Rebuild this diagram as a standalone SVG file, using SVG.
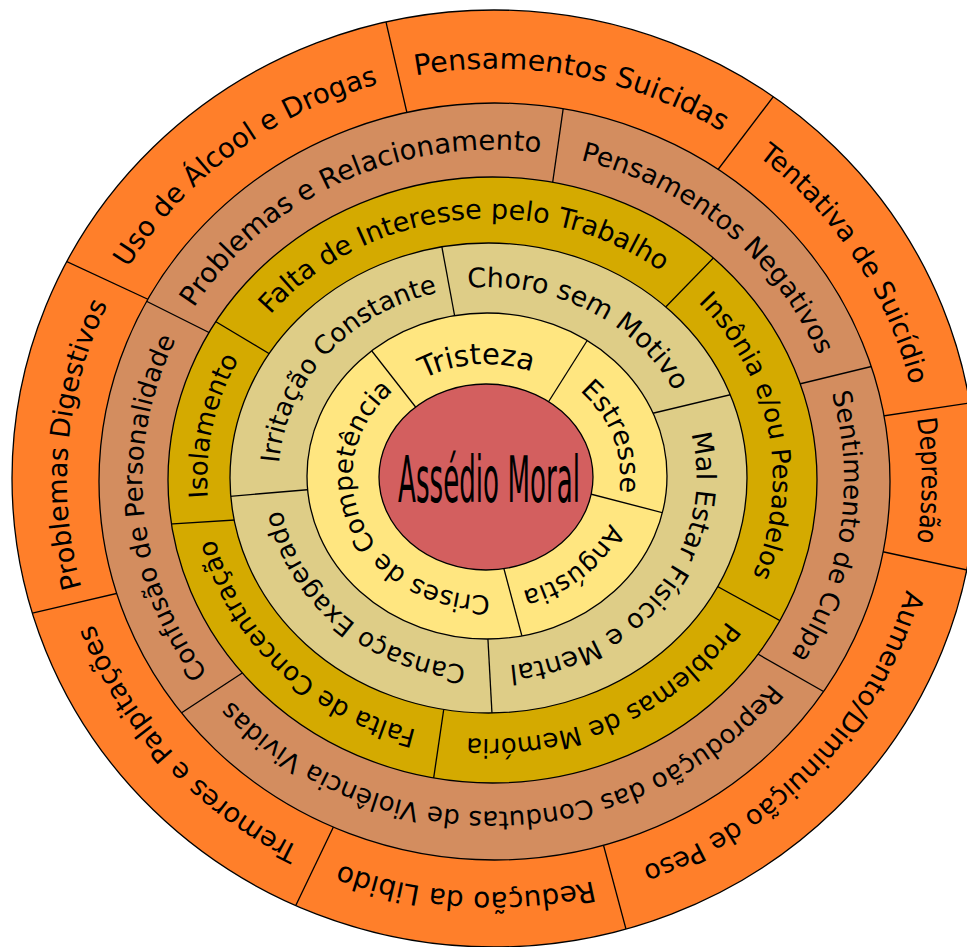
<svg xmlns="http://www.w3.org/2000/svg" width="967" height="947" viewBox="0 0 967 947">
<style>
.ring{stroke:#000;stroke-width:1.3}
.div{stroke:#000;stroke-width:1.3;fill:none}
.lbl{font-family:"DejaVu Sans","Liberation Sans",sans-serif;font-size:26px;fill:#000;text-anchor:middle}
.title{font-family:"DejaVu Sans","Liberation Sans",sans-serif;font-size:64px;fill:#000;text-anchor:middle}
</style>
<defs>
<clipPath id="c5"><ellipse cx="494" cy="478.5" rx="482" ry="468.5"/></clipPath>
<clipPath id="c4"><ellipse cx="494.5" cy="481.5" rx="395.5" ry="378.5"/></clipPath>
<clipPath id="c3"><ellipse cx="492.5" cy="480" rx="324.5" ry="303"/></clipPath>
<clipPath id="c2"><ellipse cx="488.5" cy="478" rx="258.5" ry="235"/></clipPath>
<clipPath id="c1"><ellipse cx="487" cy="476" rx="180" ry="163"/></clipPath>
<path id="p1" d="M -50 -86.6025 A 100 100 0 1 1 -50 86.6025" transform="translate(486.3 476.7) scale(1.274 1.126) rotate(265.5)"/>
<path id="p2" d="M -50 -86.6025 A 100 100 0 1 1 -50 86.6025" transform="translate(486.4 476.6) scale(1.34 1.189) rotate(342)"/>
<path id="p3" d="M -50 -86.6025 A 100 100 0 1 1 -50 86.6025" transform="translate(486.4 476.6) scale(1.34 1.189) rotate(47)"/>
<path id="p4" d="M -50 -86.6025 A 100 100 0 1 1 -50 86.6025" transform="translate(486.4 476.6) scale(1.34 1.189) rotate(157)"/>
<path id="p5" d="M -50 -86.6025 A 100 100 0 1 1 -50 86.6025" transform="translate(487.6 476.7) scale(2.09 1.896) rotate(219)"/>
<path id="p6" d="M -50 -86.6025 A 100 100 0 1 1 -50 86.6025" transform="translate(487.6 476.7) scale(2.09 1.896) rotate(300)"/>
<path id="p7" d="M -50 -86.6025 A 100 100 0 1 1 -50 86.6025" transform="translate(487.6 476.7) scale(2.09 1.896) rotate(35)"/>
<path id="p8" d="M -50 -86.6025 A 100 100 0 1 1 -50 86.6025" transform="translate(487.6 476.7) scale(2.09 1.896) rotate(134)"/>
<path id="p9" d="M -50 -86.6025 A 100 100 0 1 1 -50 86.6025" transform="translate(490 478.7) scale(2.829 2.602) rotate(191)"/>
<path id="p10" d="M -50 -86.6025 A 100 100 0 1 1 -50 86.6025" transform="translate(490 478.7) scale(2.829 2.602) rotate(263)"/>
<path id="p11" d="M -50 -86.6025 A 100 100 0 1 1 -50 86.6025" transform="translate(490 478.7) scale(2.829 2.602) rotate(350)"/>
<path id="p12" d="M -50 -86.6025 A 100 100 0 1 1 -50 86.6025" transform="translate(490 478.7) scale(2.829 2.602) rotate(63)"/>
<path id="p13" d="M -50 -86.6025 A 100 100 0 1 1 -50 86.6025" transform="translate(490 478.7) scale(2.829 2.602) rotate(137)"/>
<path id="p14" d="M -50 -86.6025 A 100 100 0 1 1 -50 86.6025" transform="translate(493.2 480.6) scale(3.508 3.309) rotate(175)"/>
<path id="p15" d="M -50 -86.6025 A 100 100 0 1 1 -50 86.6025" transform="translate(493.2 480.6) scale(3.508 3.309) rotate(244)"/>
<path id="p16" d="M -50 -86.6025 A 100 100 0 1 1 -50 86.6025" transform="translate(493.2 480.6) scale(3.508 3.309) rotate(312)"/>
<path id="p17" d="M -50 -86.6025 A 100 100 0 1 1 -50 86.6025" transform="translate(493.2 480.6) scale(3.508 3.309) rotate(8)"/>
<path id="p18" d="M -50 -86.6025 A 100 100 0 1 1 -50 86.6025" transform="translate(493.2 480.6) scale(3.508 3.309) rotate(88)"/>
<path id="p19" d="M -50 -86.6025 A 100 100 0 1 1 -50 86.6025" transform="translate(494.3 480.4) scale(4.275 4.118) rotate(232)"/>
<path id="p20" d="M -50 -86.6025 A 100 100 0 1 1 -50 86.6025" transform="translate(494.3 480.4) scale(4.275 4.118) rotate(281)"/>
<path id="p21" d="M -50 -86.6025 A 100 100 0 1 1 -50 86.6025" transform="translate(494.3 480.4) scale(4.275 4.118) rotate(328)"/>
<path id="p22" d="M -50 -86.6025 A 100 100 0 1 1 -50 86.6025" transform="translate(494.3 480.4) scale(4.275 4.118) rotate(0)"/>
<path id="p23" d="M -50 -86.6025 A 100 100 0 1 1 -50 86.6025" transform="translate(494.3 480.4) scale(4.275 4.118) rotate(42)"/>
<path id="p24" d="M -50 -86.6025 A 100 100 0 1 1 -50 86.6025" transform="translate(494.3 480.4) scale(4.275 4.118) rotate(94)"/>
<path id="p25" d="M -50 -86.6025 A 100 100 0 1 1 -50 86.6025" transform="translate(494.3 480.4) scale(4.275 4.118) rotate(139)"/>
<path id="p26" d="M -50 -86.6025 A 100 100 0 1 1 -50 86.6025" transform="translate(494.3 480.4) scale(4.275 4.118) rotate(185)"/>
</defs>
<g id="rings">
<ellipse class="ring" cx="494" cy="478.5" rx="482" ry="468.5" fill="#ff7f2a"/>
<g class="div" clip-path="url(#c5)">
<line x1="44" y1="251" x2="171" y2="310"/>
<line x1="380" y1="-4" x2="413" y2="139"/>
<line x1="789" y1="76" x2="704" y2="188"/>
<line x1="990" y1="400" x2="863" y2="419"/>
<line x1="990" y1="575" x2="861" y2="547"/>
<line x1="634" y1="959" x2="597" y2="821"/>
<line x1="284" y1="930" x2="343" y2="807"/>
<line x1="7" y1="619" x2="140" y2="588"/>
</g>
<ellipse class="ring" cx="494.5" cy="481.5" rx="395.5" ry="378.5" fill="#d38d5f"/>
<g class="div" clip-path="url(#c4)">
<line x1="130" y1="293" x2="226" y2="341"/>
<line x1="566" y1="89" x2="550" y2="201"/>
<line x1="890" y1="362" x2="783" y2="388"/>
<line x1="842" y1="702" x2="742" y2="645"/>
<line x1="166" y1="723" x2="256" y2="664"/>
</g>
<ellipse class="ring" cx="492.5" cy="480" rx="324.5" ry="303" fill="#d4aa00"/>
<g class="div" clip-path="url(#c3)">
<line x1="203" y1="314" x2="283" y2="362"/>
<line x1="725" y1="246" x2="655" y2="318"/>
<line x1="797" y1="630" x2="702" y2="578"/>
<line x1="431" y1="796" x2="446" y2="694"/>
<line x1="154" y1="525" x2="251" y2="519"/>
</g>
<ellipse class="ring" cx="488.5" cy="478" rx="258.5" ry="235" fill="#decd87"/>
<g class="div" clip-path="url(#c2)">
<line x1="438" y1="226" x2="458" y2="334"/>
<line x1="750" y1="390" x2="633" y2="418"/>
<line x1="493" y1="732" x2="487" y2="622"/>
<line x1="210" y1="498" x2="328" y2="488"/>
</g>
<ellipse class="ring" cx="487" cy="476" rx="180" ry="163" fill="#ffe680"/>
<g class="div" clip-path="url(#c1)">
<line x1="357" y1="332" x2="432" y2="428"/>
<line x1="597" y1="325" x2="537" y2="420"/>
<line x1="683" y1="518" x2="575" y2="490"/>
<line x1="527" y1="655" x2="500" y2="554"/>
</g>
</g>
<g id="center">
<ellipse class="ring" cx="486" cy="477" rx="107" ry="93" fill="#d35f5f"/>
<text class="title" x="489" y="502" textLength="182" lengthAdjust="spacingAndGlyphs">Assédio Moral</text>
</g>
<g id="seg-tristeza"><text class="lbl" style="font-size:29px"><textPath href="#p1" startOffset="50%">Tristeza</textPath></text></g>
<g id="seg-estresse"><text class="lbl" style="font-size:27px"><textPath href="#p2" startOffset="50%">Estresse</textPath></text></g>
<g id="seg-angustia"><text class="lbl"><textPath href="#p3" startOffset="50%">Angústia</textPath></text></g>
<g id="seg-crises"><text class="lbl"><textPath href="#p4" startOffset="50%">Crises de Competência</textPath></text></g>
<g id="seg-irritacao"><text class="lbl"><textPath href="#p5" startOffset="50%">Irritação Constante</textPath></text></g>
<g id="seg-choro"><text class="lbl" style="font-size:27px"><textPath href="#p6" startOffset="50%">Choro sem Motivo</textPath></text></g>
<g id="seg-malestar"><text class="lbl" style="font-size:27px"><textPath href="#p7" startOffset="50%">Mal Estar Físico e Mental</textPath></text></g>
<g id="seg-cansaco"><text class="lbl"><textPath href="#p8" startOffset="50%">Cansaço Exagerado</textPath></text></g>
<g id="seg-isolamento"><text class="lbl"><textPath href="#p9" startOffset="50%">Isolamento</textPath></text></g>
<g id="seg-interesse"><text class="lbl" style="font-size:27px"><textPath href="#p10" startOffset="50%">Falta de Interesse pelo Trabalho</textPath></text></g>
<g id="seg-insonia"><text class="lbl"><textPath href="#p11" startOffset="50%">Insônia e/ou Pesadelos</textPath></text></g>
<g id="seg-memoria"><text class="lbl"><textPath href="#p12" startOffset="50%">Problemas de Memória</textPath></text></g>
<g id="seg-concentracao"><text class="lbl"><textPath href="#p13" startOffset="50%">Falta de Concentração</textPath></text></g>
<g id="seg-personalidade"><text class="lbl"><textPath href="#p14" startOffset="50%">Confusão de Personalidade</textPath></text></g>
<g id="seg-relacionamento"><text class="lbl" style="font-size:27.5px"><textPath href="#p15" startOffset="50%">Problemas e Relacionamento</textPath></text></g>
<g id="seg-pensneg"><text class="lbl" style="font-size:26.5px"><textPath href="#p16" startOffset="50%">Pensamentos Negativos</textPath></text></g>
<g id="seg-culpa"><text class="lbl"><textPath href="#p17" startOffset="50%">Sentimento de Culpa</textPath></text></g>
<g id="seg-reproducao"><text class="lbl"><textPath href="#p18" startOffset="50%">Reprodução das Condutas de Violência Vividas</textPath></text></g>
<g id="seg-alcool"><text class="lbl" style="font-size:27.5px"><textPath href="#p19" startOffset="50%">Uso de Álcool e Drogas</textPath></text></g>
<g id="seg-suicidas"><text class="lbl" style="font-size:28.5px"><textPath href="#p20" startOffset="50%">Pensamentos Suicidas</textPath></text></g>
<g id="seg-tentativa"><text class="lbl" style="font-size:27px"><textPath href="#p21" startOffset="50%">Tentativa de Suicídio</textPath></text></g>
<g id="seg-depressao"><text class="lbl" style="font-size:27px"><textPath href="#p22" startOffset="50%" textLength="124" lengthAdjust="spacingAndGlyphs">Depressão</textPath></text></g>
<g id="seg-peso"><text class="lbl" style="font-size:27px"><textPath href="#p23" startOffset="50%">Aumento/Diminuição de Peso</textPath></text></g>
<g id="seg-libido"><text class="lbl" style="font-size:28px"><textPath href="#p24" startOffset="50%">Redução da Libido</textPath></text></g>
<g id="seg-tremores"><text class="lbl" style="font-size:27px"><textPath href="#p25" startOffset="50%">Tremores e Palpitações</textPath></text></g>
<g id="seg-digestivos"><text class="lbl" style="font-size:27px"><textPath href="#p26" startOffset="50%">Problemas Digestivos</textPath></text></g>
</svg>
